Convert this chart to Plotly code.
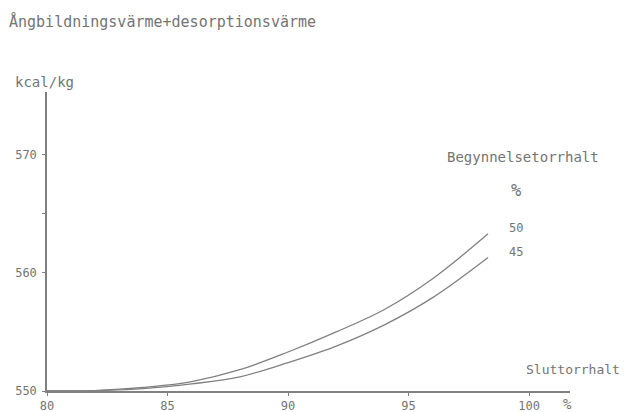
import plotly.graph_objects as go

# Heat demand (kcal/kg) against final dry content (%), one curve per initial dry content
final_dry = [80, 82, 84, 86, 88, 90, 92, 94, 96, 98.3]
heat_50 = [550.0, 550.04, 550.3, 550.8, 551.8, 553.3, 555.0, 556.9, 559.5, 563.3]
heat_45 = [550.0, 550.03, 550.2, 550.6, 551.2, 552.4, 553.8, 555.6, 557.9, 561.3]
series_labels = ["50", "45"]

x_ticks = [80, 85, 90, 95, 100]
y_ticks = [550, 560, 570]

title_text = "Ångbildningsvärme+desorptionsvärme"
y_unit = "kcal/kg"
x_name = "Sluttorrhalt"
legend_title = "Begynnelsetorrhalt"

ink = "#747474"
line_ink = "#808080"
font_family = "DejaVu Sans Mono"

# plot area in pixels: x 47..570, y 92..391
L, R, T, B = 47, 54, 92, 21
PW, PH = 624 - L - R, 412 - T - B


def px(x):
    return (x - L) / PW


def py(y):
    return (412 - B - y) / PH


fig = go.Figure()
for ys in (heat_50, heat_45):
    fig.add_trace(go.Scatter(
        x=final_dry, y=ys, mode="lines",
        line=dict(color=line_ink, width=1.3, shape="spline", smoothing=1.0),
        showlegend=False, hoverinfo="skip",
    ))

fig.update_layout(
    width=624, height=412,
    margin=dict(l=L, r=R, t=T, b=B),
    paper_bgcolor="white", plot_bgcolor="white",
    font=dict(family=font_family, color=ink, size=12),
    showlegend=False,
)

fig.update_xaxes(
    range=[80, 101.7], showgrid=False, zeroline=False, automargin=False,
    showline=True, linecolor=line_ink, linewidth=1.5,
    tickvals=x_ticks, ticktext=[str(v) for v in x_ticks],
    ticks="outside", ticklen=3, tickcolor=line_ink,
    tickfont=dict(size=12, color=ink), ticklabelstandoff=0,
)
fig.update_yaxes(
    range=[550, 575.3], showgrid=False, zeroline=False, automargin=False,
    showline=True, linecolor=line_ink, linewidth=1.5,
    tickvals=y_ticks, ticktext=[str(v) for v in y_ticks],
    ticks="outside", ticklen=3, tickcolor=line_ink,
    tickfont=dict(size=12, color=ink), ticklabelstandoff=3,
    minor=dict(tickvals=[565], ticks="outside", ticklen=3, tickcolor=line_ink),
)

# Title and axis captions
fig.add_annotation(text=title_text, xref="paper", yref="paper",
                   x=px(7), y=py(22), xanchor="left", yanchor="middle",
                   showarrow=False, font=dict(size=15, color=ink, family=font_family))
fig.add_annotation(text=y_unit, xref="paper", yref="paper",
                   x=px(44), y=py(82), xanchor="center", yanchor="middle",
                   showarrow=False, font=dict(size=14, color=ink, family=font_family))
fig.add_annotation(text=x_name, xref="paper", yref="paper",
                   x=px(622), y=py(369), xanchor="right", yanchor="middle",
                   showarrow=False, font=dict(size=13, color=ink, family=font_family))
fig.add_annotation(text="%", xref="paper", yref="paper",
                   x=px(567), y=py(404), xanchor="center", yanchor="middle",
                   showarrow=False, font=dict(size=14, color=ink, family=font_family))

# Series key
fig.add_annotation(text=legend_title, xref="paper", yref="paper",
                   x=px(523), y=py(157), xanchor="center", yanchor="middle",
                   showarrow=False, font=dict(size=14, color=ink, family=font_family))
fig.add_annotation(text="%", xref="paper", yref="paper",
                   x=px(516), y=py(190), xanchor="center", yanchor="middle",
                   showarrow=False, font=dict(size=17, color=ink, family=font_family))
for lab, ypix in zip(series_labels, (228, 252)):
    fig.add_annotation(text=lab, xref="paper", yref="paper",
                       x=px(516), y=py(ypix), xanchor="center", yanchor="middle",
                       showarrow=False, font=dict(size=12, color=ink, family=font_family))

fig.write_html("out.html")
